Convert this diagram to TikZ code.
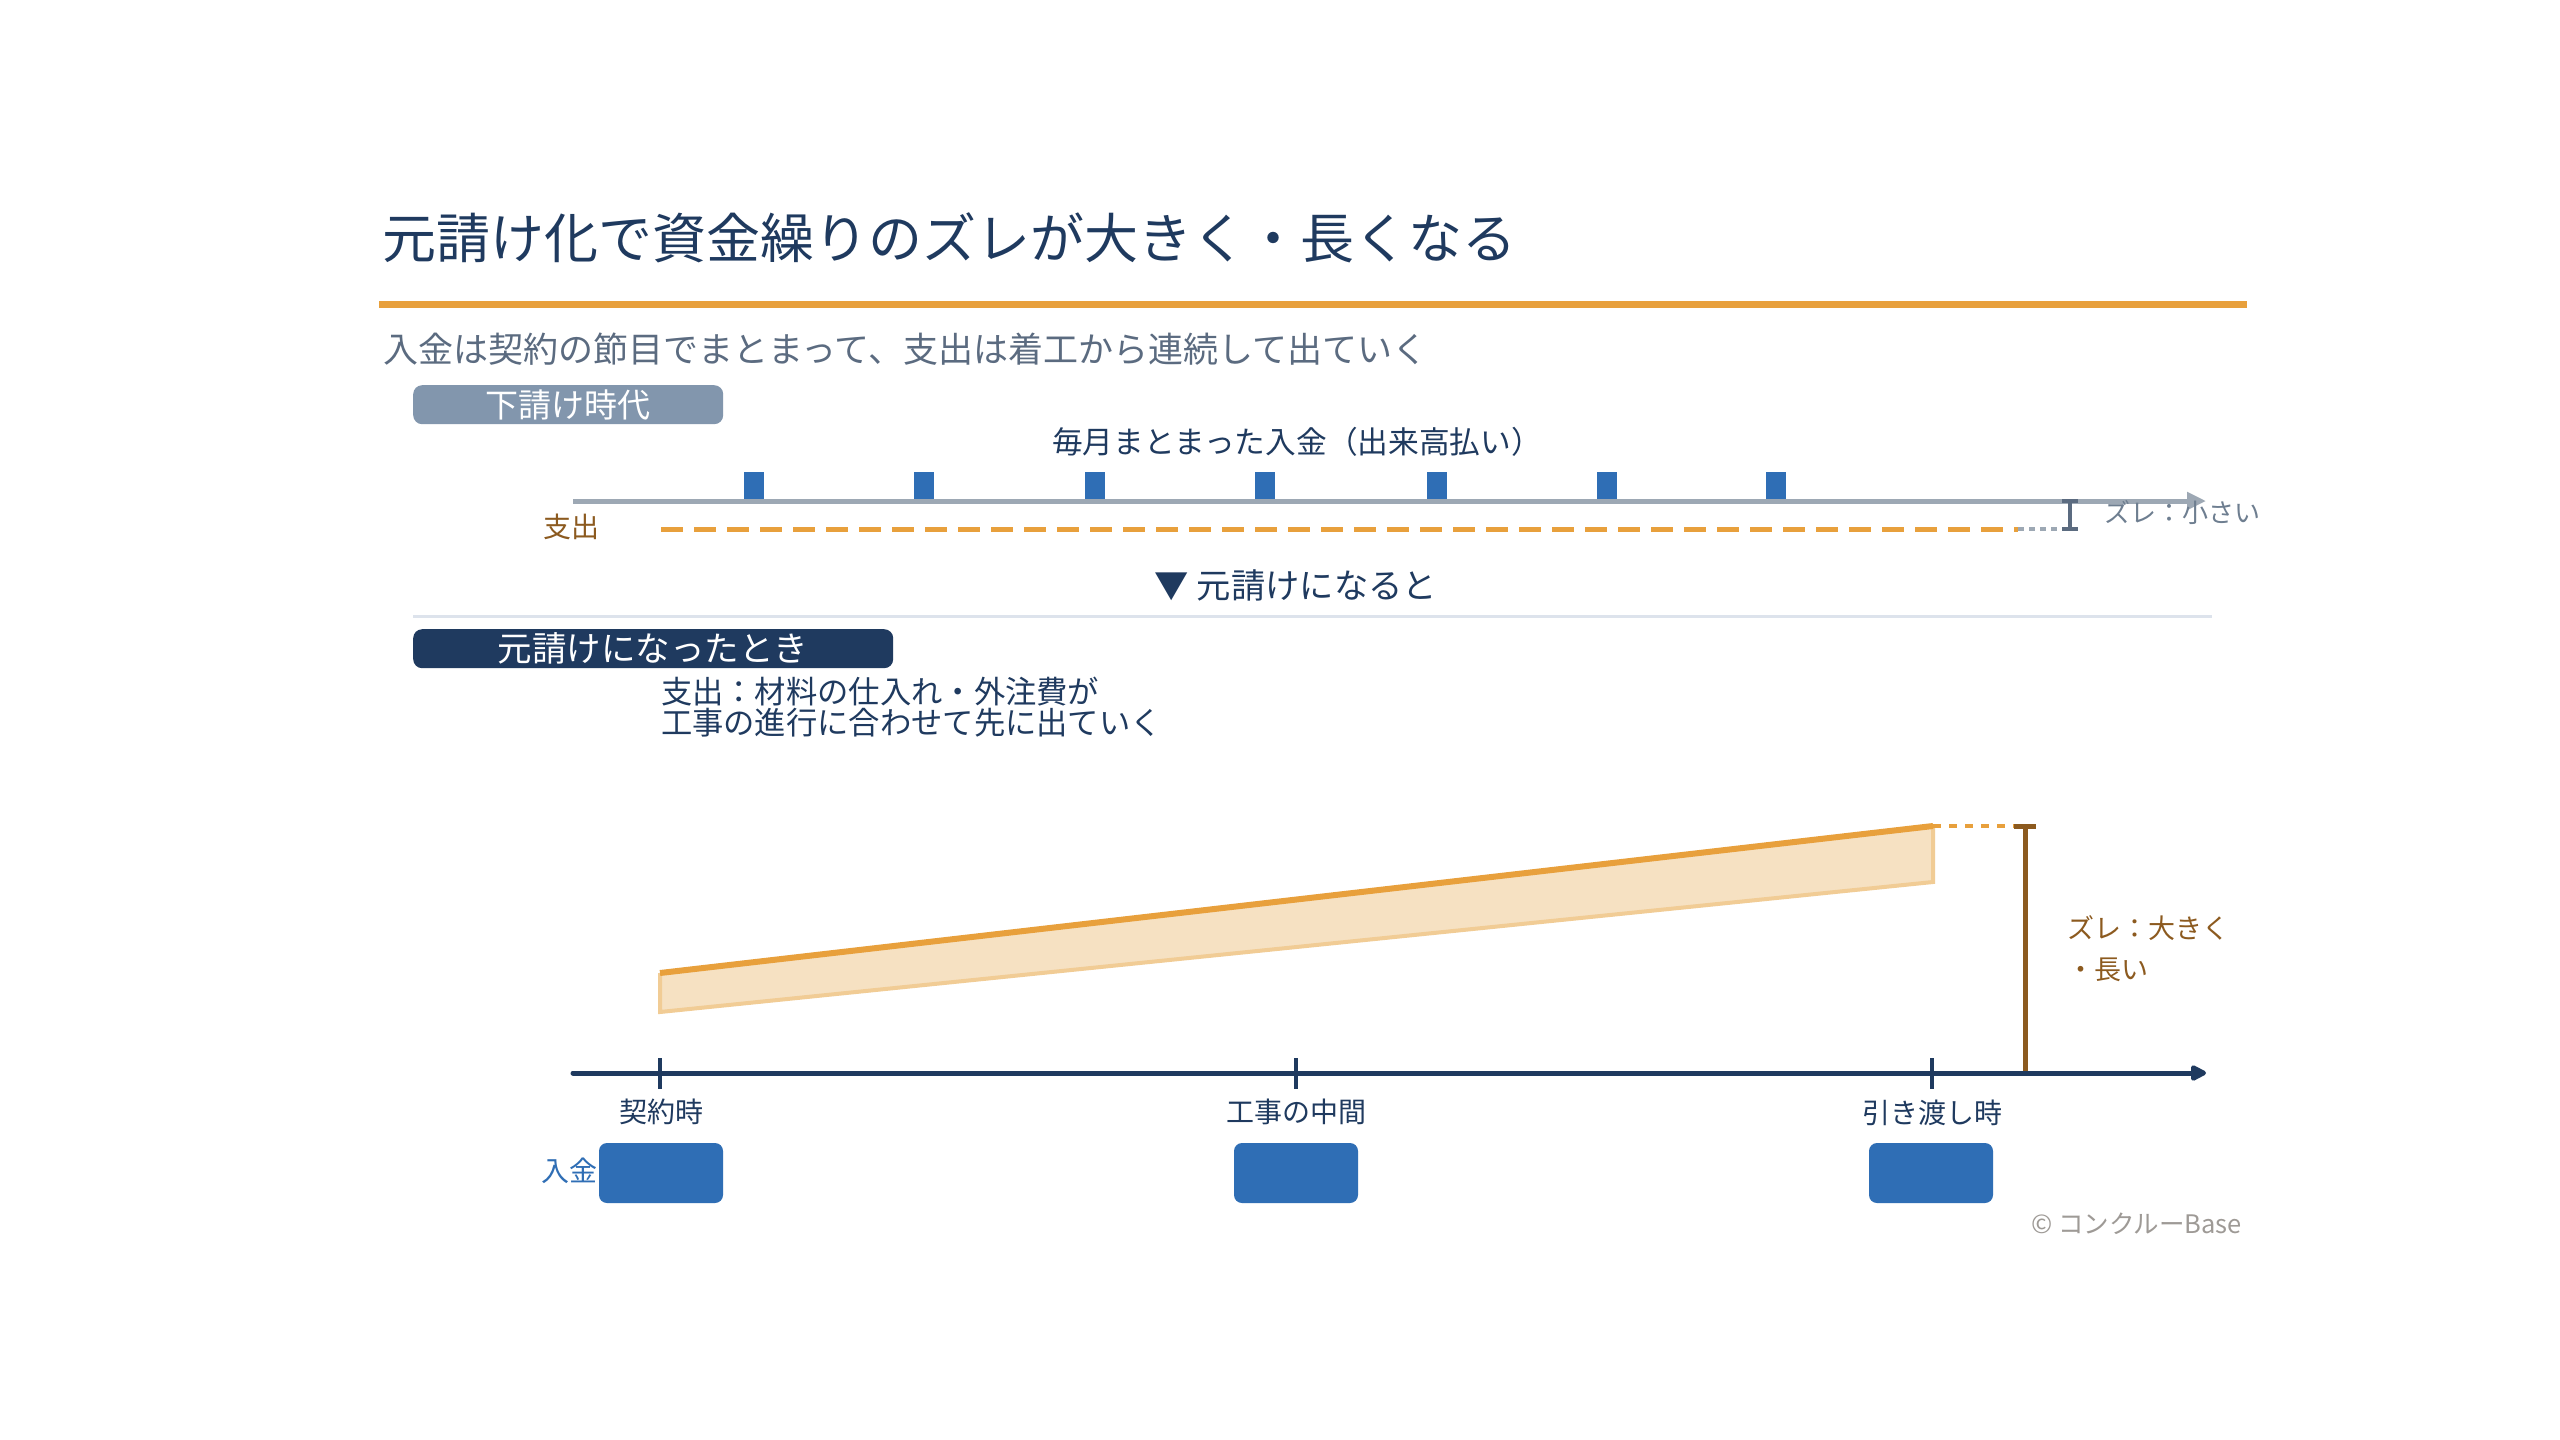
\documentclass[tikz,border=0pt]{standalone}
\usepackage{fontspec}
\setmainfont{Noto Sans CJK JP}
\usetikzlibrary{arrows.meta}
\definecolor{navy}{HTML}{1F3A5F}
\definecolor{orng}{HTML}{E8A03C}
\definecolor{lightorng}{HTML}{F6E1C2}
\definecolor{bandedge}{HTML}{F1CC95}
\definecolor{slate}{HTML}{5B6B80}
\definecolor{slatelight}{HTML}{6E7E90}
\definecolor{pillgray}{HTML}{8296AD}
\definecolor{brwn}{HTML}{8C5A1F}
\definecolor{blu}{HTML}{2F6EB5}
\definecolor{axisgray}{HTML}{9DA8B4}
\definecolor{sepcol}{HTML}{DDE3EC}
\definecolor{copycol}{HTML}{9E9A96}
\tikzset{
  txt/.style={inner sep=0pt, outer sep=0pt},
  pill/.style={rounded corners=9pt, minimum height=39pt, inner sep=0pt, text=white, anchor=north west},
  monthbar/.style={fill=blu, minimum width=20pt, minimum height=27pt, inner sep=0pt, anchor=south},
  paybox/.style={fill=blu, rounded corners=8pt, minimum width=124pt, minimum height=60pt, inner sep=0pt},
  ticklbl/.style={txt, text=navy, font=\fontsize{28}{32}\selectfont},
}
\begin{document}
\begin{tikzpicture}[x=1pt,y=-1pt]
\path[fill=white] (0,0) rectangle (2560,1440);
\useasboundingbox (0,0) rectangle (2560,1440);

% title
\node[txt, anchor=west, text=navy, font=\fontsize{54}{60}\selectfont] (title) at (382,238) {元請け化で資金繰りのズレが大きく・長くなる};
\draw[orng, line width=7pt] (379,304) -- (2247,304);
\node[txt, anchor=west, text=slate, font=\fontsize{35}{40}\selectfont] (subtitle) at (383,349) {入金は契約の節目でまとまって、支出は着工から連続して出ていく};

% ---- subcontract era
\node[pill, fill=pillgray, minimum width=310pt, font=\fontsize{33}{36}\selectfont] (pill1) at (413,385) {下請け時代};
\node[txt, text=navy, font=\fontsize{30.7}{34}\selectfont] (monthly) at (1297,442) {毎月まとまった入金（出来高払い）};

\coordinate (ga0) at (573,501);
\coordinate (ga1) at (2206,501);
\draw[axisgray, line width=5pt, -{Triangle[length=19pt,width=17pt]}] (ga0) -- (ga1);
\foreach \i/\x in {1/754,2/924,3/1095,4/1265,5/1437,6/1607,7/1776}{
  \node[monthbar] (bar\i) at (\x,499) {};
}
\node[txt, text=brwn, font=\fontsize{28}{32}\selectfont] (outlbl1) at (571,527) {支出};
\coordinate (od0) at (661,529);
\coordinate (od1) at (2018,529);
\coordinate (od2) at (2064,529);
\draw[orng, line width=5pt, dash pattern=on 22pt off 11pt] (od0) -- (od1);
\draw[axisgray, line width=4pt, dash pattern=on 6pt off 5pt] (od1) -- (od2);
\coordinate (sb0) at (2070,501);
\coordinate (sb1) at (2070,529);
\draw[slate, line width=4pt] (sb0) -- (sb1);
\draw[slate, line width=4pt] ([xshift=-8pt]sb0) -- ([xshift=8pt]sb0);
\draw[slate, line width=4pt] ([xshift=-8pt]sb1) -- ([xshift=8pt]sb1);
\node[txt, anchor=west, text=slatelight, font=\fontsize{26}{30}\selectfont] (small) at (2104,513) {ズレ：小さい};

% ---- transition
\node[txt, text=navy, font=\fontsize{34.3}{38}\selectfont] (trans) at (1296,585) {▼ 元請けになると};
\draw[sepcol, line width=3pt] (413,616) -- (2212,616);

% ---- prime contractor
\node[pill, fill=navy, minimum width=480pt, font=\fontsize{34.5}{38}\selectfont] (pill2) at (413,629) {元請けになったとき};
\node[txt, anchor=west, text=navy, font=\fontsize{31.3}{34}\selectfont] (note1) at (661,692) {支出：材料の仕入れ・外注費が};
\node[txt, anchor=west, text=navy, font=\fontsize{31.3}{34}\selectfont] (note2) at (661,723) {工事の進行に合わせて先に出ていく};

\coordinate (bA) at (660,973);
\coordinate (bB) at (1933,826);
\coordinate (bC) at (1933,882);
\coordinate (bD) at (660,1012);
\fill[lightorng] (bA) -- (bB) -- (bC) -- (bD) -- cycle;
\draw[bandedge, line width=4pt] (bB) -- (bC) -- (bD) -- (bA);
\draw[orng, line width=6pt] (bA) -- (bB);
\coordinate (gapTop) at (2025,826);
\coordinate (gapBot) at (2025,1073);
\draw[orng, line width=4pt, dash pattern=on 8pt off 8pt] (bB) -- (gapTop);
\draw[brwn, line width=5pt] (gapTop) -- (gapBot);
\draw[brwn, line width=5pt] ([xshift=-11pt]gapTop) -- ([xshift=11pt]gapTop);
\draw[brwn, line width=5pt] ([xshift=-11pt]gapBot) -- ([xshift=11pt]gapBot);
\node[txt, anchor=west, text=brwn, font=\fontsize{27}{31}\selectfont] (big1) at (2067,928) {ズレ：大きく};
\node[txt, anchor=west, text=brwn, font=\fontsize{27}{31}\selectfont] (big2) at (2067,970) {・長い};

\coordinate (na0) at (573,1073);
\coordinate (na1) at (2206,1073);
\draw[navy, line width=5pt, line cap=round, -{Triangle[length=18pt,width=17pt,round]}] (na0) -- (na1);
\foreach \i/\x in {1/660,2/1296,3/1932}{
  \coordinate (t\i a) at (\x,1058);
  \coordinate (t\i b) at (\x,1089);
  \draw[navy, line width=4pt] (t\i a) -- (t\i b);
}
\node[ticklbl] (lbl1) at (661,1112) {契約時};
\node[ticklbl] (lbl2) at (1296,1112) {工事の中間};
\node[ticklbl] (lbl3) at (1932,1113) {引き渡し時};

\node[paybox] (pay1) at (661,1173) {};
\node[paybox] (pay2) at (1296,1173) {};
\node[paybox] (pay3) at (1931,1173) {};
\node[txt, anchor=east, text=blu, font=\fontsize{28}{32}\selectfont] (inlbl) at (597,1171) {入金};

\node[txt, anchor=east, text=copycol, font=\fontsize{25.5}{29}\selectfont] (copy) at (2242,1224) {© コンクルーBase};
\end{tikzpicture}
\end{document}
